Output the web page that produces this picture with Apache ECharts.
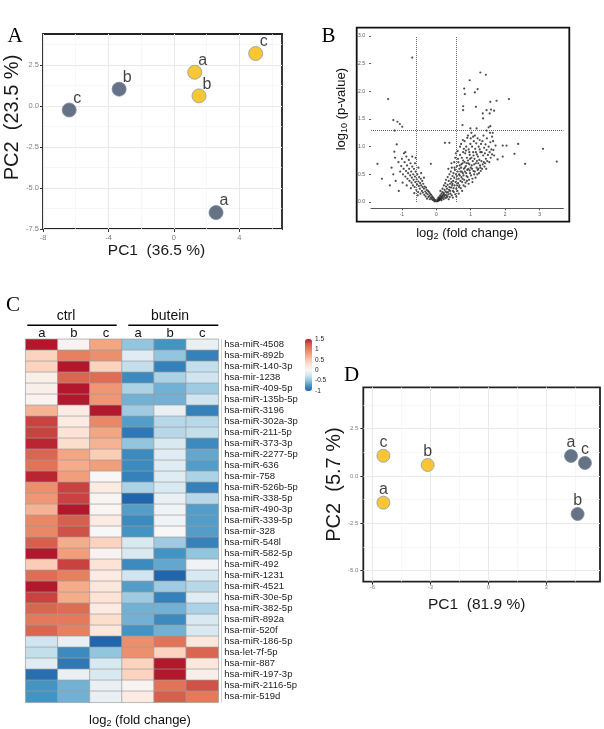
<!DOCTYPE html>
<html><head><meta charset="utf-8">
<script src="https://cdn.jsdelivr.net/npm/echarts@6/dist/echarts.min.js"></script>
<style>html,body{margin:0;padding:0;background:#fff}#c{width:604px;height:729px}</style>
</head><body><div id="c"></div>
<script>
// ---------- data ----------
const LETTERS = ['a', 'b', 'c'];
// Panel A (PCA)
const A_BLUE = [[2.57, -6.5], [-3.35, 1.02], [-6.4, -0.25]];
const A_YELLOW = [[1.27, 2.05], [1.53, 0.61], [4.99, 3.19]];
const A_X_TICKS = [-8, -4, 0, 4], A_X_MINOR = [-6, -2, 2, 6];
const A_Y_TICKS = [-7.5, -5, -2.5, 0, 2.5], A_Y_MINOR = [-6.25, -3.75, -1.25, 1.25, 3.75];
// Panel D (PCA)
const D_BLUE = [[4.28, 1.06], [4.62, -2.01], [5.0, 0.69]];
const D_YELLOW = [[-5.43, -1.41], [-3.14, 0.58], [-5.43, 1.07]];
const D_X_TICKS = [-6, -3, 0, 3], D_X_MINOR = [-4.5, -1.5, 1.5, 4.5];
const D_Y_TICKS = [-5, -2.5, 0, 2.5], D_Y_MINOR = [-3.75, -1.25, 1.25, 3.75];
// Panel B (volcano)
const B_X_TICKS = [-1, 0, 1, 2, 3];
const B_Y_TICKS = [0, 0.5, 1, 1.5, 2, 2.5, 3];
const FC_CUT = 0.585, P_CUT = 1.3;
const VOLCANO = [
 [-0.70,2.61],[-1.40,1.86],[-1.25,1.48],[-1.13,1.45],[-1.06,1.41],[-0.99,1.36],[-1.21,1.29],[-1.15,1.04],[-1.22,0.91],[-1.71,0.69],[-1.58,0.42],[-1.09,0.20],[-0.16,0.69],[0.25,1.07],[0.38,1.07],
 [1.28,2.34],[1.44,2.30],[0.97,2.20],[0.81,2.05],[1.20,2.04],[0.83,1.95],[1.12,1.98],[2.11,1.86],[1.75,1.83],[1.57,1.81],[0.78,1.73],[1.15,1.72],[0.78,1.66],[1.46,1.66],[1.59,1.67],[1.68,1.65],[1.35,1.60],[1.55,1.60],[1.36,1.51],[1.52,1.35],[1.57,1.37],[1.46,1.29],[1.64,1.25],[0.76,1.39],[0.99,1.33],[1.17,1.33],
 [2.38,1.05],[2.04,1.02],[1.93,1.02],[3.10,0.96],[2.27,0.87],[1.78,0.77],[3.50,0.73],[2.58,0.69],[1.93,0.82],[1.66,0.94],
 [0.02,0.01],[0.04,0.03],[0.05,0.02],[0.07,0.05],[0.08,0.03],[0.09,0.07],[0.03,0.05],[0.06,0.08],[0.1,0.04],[0.1,0.1],
 [0.11,0.06],[0.12,0.12],[0.13,0.05],[0.14,0.09],[0.15,0.15],[0.16,0.07],[0.17,0.11],[0.18,0.18],[0.19,0.08],[0.2,0.13],[0.12,0.2],[0.15,0.03],[0.18,0.24],
 [0.21,0.05],[0.22,0.16],[0.23,0.1],[0.24,0.22],[0.25,0.13],[0.26,0.07],[0.27,0.19],[0.28,0.28],[0.29,0.12],[0.3,0.17],[0.22,0.3],[0.26,0.34],[0.3,0.08],[0.28,0.4],
 [0.31,0.24],[0.32,0.1],[0.33,0.31],[0.34,0.18],[0.35,0.14],[0.36,0.38],[0.37,0.22],[0.38,0.27],[0.39,0.09],[0.4,0.33],[0.33,0.45],[0.36,0.05],[0.38,0.5],[0.4,0.2],[0.35,0.6],
 [0.41,0.15],[0.42,0.42],[0.43,0.26],[0.44,0.36],[0.45,0.12],[0.46,0.3],[0.47,0.47],[0.48,0.2],[0.49,0.38],[0.5,0.25],[0.42,0.55],[0.45,0.62],[0.48,0.08],[0.5,0.52],[0.44,0.7],[0.47,0.33],
 [0.51,0.18],[0.52,0.44],[0.53,0.3],[0.54,0.58],[0.55,0.14],[0.56,0.36],[0.57,0.5],[0.58,0.24],[0.59,0.41],[0.6,0.65],[0.52,0.72],[0.55,0.8],[0.58,0.1],[0.6,0.3],[0.53,0.62],[0.57,0.88],[0.6,0.47],
 [0.61,0.2],[0.62,0.55],[0.63,0.34],[0.64,0.72],[0.65,0.42],[0.66,0.27],[0.67,0.6],[0.68,0.48],[0.69,0.85],[0.7,0.38],[0.62,0.92],[0.65,0.15],[0.68,0.66],[0.7,0.55],[0.63,0.78],[0.67,0.3],[0.69,1.0],[0.66,0.5],
 [0.71,0.25],[0.72,0.62],[0.73,0.45],[0.74,0.8],[0.75,0.36],[0.76,0.7],[0.77,0.52],[0.78,0.9],[0.79,0.3],[0.8,0.6],[0.72,1.05],[0.74,0.55],[0.76,0.42],[0.78,0.75],[0.8,0.96],[0.73,0.68],[0.77,1.12],[0.79,0.48],[0.75,0.2],
 [0.81,0.4],[0.82,0.72],[0.83,0.55],[0.84,0.88],[0.85,0.35],[0.86,0.65],[0.87,1.0],[0.88,0.47],[0.89,0.8],[0.9,0.58],[0.82,1.1],[0.84,0.28],[0.86,0.93],[0.88,0.7],[0.9,1.16],[0.83,0.62],[0.87,0.52],[0.89,0.38],
 [0.91,0.45],[0.92,0.75],[0.93,0.6],[0.94,0.95],[0.95,0.4],[0.96,0.68],[0.97,0.85],[0.98,0.52],[0.99,1.05],[1.0,0.62],[0.92,1.2],[0.94,0.33],[0.96,0.9],[0.98,0.78],[1.0,1.15],[0.93,0.7],[0.97,0.57],
 [1.01,0.48],[1.02,0.8],[1.03,0.66],[1.04,1.0],[1.05,0.42],[1.06,0.74],[1.07,0.9],[1.08,0.56],[1.09,1.1],[1.1,0.68],[1.02,1.25],[1.05,0.36],[1.08,0.84],[1.1,0.5],[1.04,0.6],[1.07,1.18],
 [1.11,0.78],[1.12,0.55],[1.13,0.96],[1.14,0.44],[1.15,0.7],[1.16,1.06],[1.17,0.62],[1.18,0.86],[1.19,0.5],[1.2,1.15],[1.12,1.2],[1.15,0.9],[1.18,0.74],[1.2,0.58],
 [1.21,0.82],[1.22,0.6],[1.23,1.0],[1.24,0.52],[1.25,0.76],[1.26,1.12],[1.27,0.66],[1.28,0.9],[1.29,0.56],[1.3,1.05],[1.22,0.7],[1.26,0.95],[1.28,0.62],
 [1.31,0.74],[1.32,0.9],[1.33,0.6],[1.34,1.1],[1.35,0.68],[1.36,0.84],[1.37,1.2],[1.38,0.72],[1.39,0.98],[1.4,0.64],
 [1.41,0.88],[1.42,0.7],[1.43,1.04],[1.44,0.78],[1.45,0.6],[1.46,0.94],[1.47,1.15],[1.48,0.74],[1.5,0.85],
 [1.52,1.0],[1.54,0.72],[1.55,0.9],[1.57,1.08],[1.58,0.8],[1.6,0.95],[1.62,0.86],[1.65,1.1],[1.68,0.84],[1.72,1.02],[1.56,1.25],[1.62,1.18],
 [-0.02,0.02],[-0.04,0.04],[-0.05,0.01],[-0.07,0.06],[-0.08,0.03],[-0.1,0.08],[-0.11,0.04],[-0.12,0.1],[-0.14,0.06],[-0.15,0.13],[-0.16,0.08],[-0.18,0.15],[-0.19,0.05],[-0.2,0.11],[-0.21,0.18],[-0.23,0.09],[-0.24,0.2],[-0.25,0.14],[-0.27,0.06],[-0.28,0.22],[-0.29,0.16],[-0.3,0.26],[-0.31,0.1],[-0.32,0.19],[-0.34,0.28],[-0.35,0.13],[-0.36,0.24],[-0.38,0.33],[-0.39,0.17],[-0.4,0.27],
 [-0.41,0.38],[-0.42,0.2],[-0.44,0.3],[-0.45,0.42],[-0.46,0.15],[-0.47,0.34],[-0.48,0.24],[-0.5,0.45],[-0.51,0.29],[-0.52,0.37],[-0.53,0.18],[-0.55,0.5],[-0.56,0.32],[-0.57,0.41],[-0.58,0.22],[-0.6,0.55],[-0.61,0.36],[-0.62,0.46],[-0.63,0.27],[-0.65,0.6],
 [-0.66,0.4],[-0.67,0.5],[-0.68,0.3],[-0.7,0.64],[-0.71,0.44],[-0.72,0.35],[-0.73,0.55],[-0.75,0.7],[-0.76,0.48],[-0.78,0.38],[-0.79,0.6],[-0.8,0.76],[-0.82,0.52],[-0.84,0.42],[-0.85,0.66],[-0.87,0.82],[-0.88,0.56],[-0.9,0.46],[-0.92,0.72],[-0.94,0.88],
 [-0.95,0.6],[-0.97,0.5],[-1.0,0.78],[-1.02,0.65],[-1.05,0.55],[-0.98,0.35],[-1.1,0.72],[-0.86,0.3],[-0.74,0.25],[-0.64,0.16],[-0.54,0.12],[-0.9,0.9],[-0.7,0.82],[-0.62,0.7],[-0.52,0.62],[-0.44,0.52],[-0.36,0.44],[-1.25,0.5],[-1.3,0.62],[-1.18,0.38],[-1.2,0.8],[-1.35,0.3],[-0.6,0.8]
];
// Panel C (heatmap)
const HEAT_GROUPS = ['ctrl', 'butein'];
const HEAT_COLS = ['a', 'b', 'c', 'a', 'b', 'c'];
const HEAT_COL_IDS = ['ctrl-a', 'ctrl-b', 'ctrl-c', 'butein-a', 'butein-b', 'butein-c'];
const HEAT_ROWS = ['hsa-miR-4508','hsa-miR-892b','hsa-miR-140-3p','hsa-mir-1238','hsa-miR-409-5p','hsa-miR-135b-5p','hsa-miR-3196','hsa-miR-302a-3p','hsa-miR-211-5p','hsa-miR-373-3p','hsa-miR-2277-5p','hsa-miR-636','hsa-mir-758','hsa-miR-526b-5p','hsa-miR-338-5p','hsa-miR-490-3p','hsa-miR-339-5p','hsa-mir-328','hsa-miR-548l','hsa-miR-582-5p','hsa-miR-492','hsa-miR-1231','hsa-miR-4521','hsa-miR-30e-5p','hsa-miR-382-5p','hsa-miR-892a','hsa-mir-520f','hsa-miR-186-5p','hsa-let-7f-5p','hsa-mir-887','hsa-miR-197-3p','hsa-miR-2116-5p','hsa-mir-519d'];
const HEAT_VALUES = [
 [1.5,0.05,0.75,-0.5,-0.75,-0.1],
 [0.4,1.0,0.9,-0.15,-0.5,-0.85],
 [0.4,1.5,0.4,-0.3,-0.85,-0.3],
 [0.1,1.2,1.15,-0.8,-0.4,-0.25],
 [0.1,1.5,0.85,-0.4,-0.6,-0.45],
 [0.05,1.5,0.85,-0.6,-0.6,-0.25],
 [0.65,0.15,1.5,-0.45,-0.1,-0.85],
 [1.35,0.15,0.95,-0.7,-0.35,-0.35],
 [1.35,0.25,0.75,-0.9,-0.35,-0.3],
 [1.45,0.3,0.65,-0.5,-0.2,-0.8],
 [1.2,0.75,0.45,-0.8,-0.15,-0.65],
 [1.1,0.7,0.8,-0.8,-0.15,-0.7],
 [1.45,0.8,0.0,-0.85,-0.15,-0.4],
 [0.9,1.35,0.15,-0.4,-0.2,-0.85],
 [0.85,1.35,0.02,-1.0,-0.1,-0.35],
 [0.65,1.5,0.03,-0.7,-0.05,-0.7],
 [0.95,1.25,0.15,-0.8,-0.05,-0.7],
 [0.95,1.3,0.0,-0.75,0.0,-0.7],
 [1.25,0.7,0.4,-0.2,-0.45,-0.85],
 [1.5,0.8,0.05,-0.2,-0.75,-0.5],
 [0.45,1.35,0.25,-0.8,-0.65,-0.05],
 [1.15,1.0,0.15,-0.25,-1.0,-0.2],
 [1.5,0.7,0.2,-0.7,-0.45,-0.35],
 [1.35,0.7,0.25,-0.45,-0.85,-0.15],
 [1.2,1.15,0.15,-0.6,-0.6,-0.4],
 [1.05,1.05,0.3,-0.6,-0.8,-0.2],
 [1.2,1.0,0.2,-0.75,-0.6,-0.2],
 [-0.25,-0.1,-1.0,0.9,1.1,0.2],
 [-0.3,-0.8,-0.5,0.9,0.4,1.2],
 [-0.15,-0.9,-0.2,0.4,1.5,0.2],
 [-0.95,-0.1,-0.2,0.4,1.5,0.1],
 [-0.75,-0.6,-0.1,0.05,1.1,1.3],
 [-0.75,-0.6,-0.1,0.15,1.25,1.05]
];
const HEAT_MIN = -1, HEAT_MAX = 1.5;
const COLORBAR_TICKS = [-1, -0.5, 0, 0.5, 1, 1.5];

// ---------- styles ----------
const FONT = '"Liberation Sans", Arial, sans-serif';
const SERIF = '"Liberation Serif", "Times New Roman", serif';
const HEAT_PALETTE = ['#2166AC','#4393C3','#92C5DE','#D1E5F0','#F7F7F7','#FDE3D5','#FAC8AF','#F4A582','#E7805F','#D6604D','#B2182B'];
const BLUE = '#3F5067', YELLOW = '#F9B800';
const TICK_GRAY = '#7f7f7f';

function majorAxis(dim, gridIndex, min, max, ticks, fmt, fs, margin, name, gap, nameSize, pad) {
  return {
    type: 'value', gridIndex, min, max, position: dim === 'x' ? 'bottom' : 'left',
    axisLine: { show: false, onZero: false },
    axisTick: { show: true, length: 3, customValues: ticks, lineStyle: { color: '#333', width: 1 } },
    axisLabel: { customValues: ticks, formatter: fmt, fontSize: fs, color: TICK_GRAY, margin, fontFamily: FONT },
    splitLine: { show: true, lineStyle: { color: '#e9e9e9', width: 1 } },
    name, nameLocation: 'middle', nameGap: gap,
    nameTextStyle: { fontSize: nameSize, color: '#1a1a1a', fontFamily: FONT, padding: pad }
  };
}
function minorAxis(dim, gridIndex, min, max, ticks) {
  return {
    type: 'value', gridIndex, min, max, position: dim === 'x' ? 'top' : 'right',
    axisLine: { show: false, onZero: false },
    axisTick: { show: false, customValues: ticks },
    axisLabel: { show: false },
    splitLine: { show: true, lineStyle: { color: '#f3f3f3', width: 0.7 } }
  };
}
const hiddenAxis = (gridIndex) => ({ type: 'value', gridIndex, min: 0, max: 1, show: false });
const fmt1 = v => v.toFixed(1);
const fmt0 = v => String(v);
const pts = arr => arr.map((p, i) => ({ name: LETTERS[i], value: p }));

function pcaSeries(data, color, border, xi, yi, size, labelPos) {
  return {
    type: 'scatter', xAxisIndex: xi, yAxisIndex: yi, data: pts(data), symbolSize: size,
    itemStyle: { color, borderColor: border, borderWidth: 1 },
    label: Object.assign({ show: true, formatter: '{b}', fontSize: 16, color: '#111', fontFamily: FONT }, labelPos),
    emphasis: { disabled: true }, z: 5
  };
}

const heatData = [];
HEAT_VALUES.forEach((row, r) => row.forEach((v, c) => heatData.push([c, r, v])));

const B_X_MIN = -1.898, B_X_MAX = 3.69, B_Y_MIN = -0.114, B_Y_MAX = 3.0;

const option = {
  animation: false,
  textStyle: { fontFamily: FONT },
  grid: [
    { left: 43, top: 34, width: 239, height: 195, show: true, borderColor: '#222', borderWidth: 1.8, backgroundColor: 'transparent', outerBoundsMode: 'none' },
    { left: 356.7, top: 27.7, width: 212.6, height: 194, show: true, borderColor: '#111', borderWidth: 1.8, backgroundColor: 'transparent', outerBoundsMode: 'none' },
    { left: 371, top: 36, width: 192.3, height: 172.3, outerBoundsMode: 'none' },
    { left: 25.7, top: 339.3, width: 192.6, height: 363, outerBoundsMode: 'none' },
    { left: 305, top: 339, width: 7, height: 52, outerBoundsMode: 'none' },
    { left: 363.3, top: 387.3, width: 236.7, height: 194.4, show: true, borderColor: '#222', borderWidth: 1.8, backgroundColor: 'transparent', outerBoundsMode: 'none' }
  ],
  xAxis: [
    majorAxis('x', 0, -8, 6.6, A_X_TICKS, fmt0, 7.5, 5, 'PC1  (36.5 %)', 13, 15.5, [0, 12, 0, 0]),
    minorAxis('x', 0, -8, 6.6, A_X_MINOR),
    hiddenAxis(1),
    {
      type: 'value', gridIndex: 2, min: B_X_MIN, max: B_X_MAX, position: 'bottom',
      axisLine: { show: true, onZero: false, lineStyle: { color: '#555', width: 1 } },
      axisTick: { show: true, length: 2, customValues: B_X_TICKS, lineStyle: { color: '#555' } },
      axisLabel: { customValues: B_X_TICKS, formatter: fmt0, fontSize: 5, color: '#555', margin: 4 },
      splitLine: { show: false },
      name: 'log{s|2} (fold change)', nameLocation: 'middle', nameGap: 17,
      nameTextStyle: { fontSize: 13, color: '#111', lineHeight: 16, rich: { s: { fontSize: 9, lineHeight: 8, verticalAlign: 'bottom' } } }
    },
    {
      type: 'category', gridIndex: 3, data: HEAT_COL_IDS, position: 'top',
      axisLine: { show: false }, axisTick: { show: false },
      axisLabel: { interval: 0, formatter: (v, i) => HEAT_COLS[i], fontSize: 13, color: '#111', margin: -1 },
      splitLine: { show: false }
    },
    {
      type: 'category', gridIndex: 3, data: HEAT_COL_IDS, position: 'bottom',
      axisLine: { show: false }, axisTick: { show: false }, axisLabel: { show: false },
      name: 'log{s|2} (fold change)', nameLocation: 'middle', nameGap: 10,
      nameTextStyle: { fontSize: 13, color: '#111', lineHeight: 16, padding: [0, 0, 0, 36], rich: { s: { fontSize: 9, lineHeight: 8, verticalAlign: 'bottom' } } }
    },
    { type: 'value', gridIndex: 4, min: 0, max: 1, show: false },
    majorAxis('x', 5, -6.47, 5.78, D_X_TICKS, fmt0, 6, 3, 'PC1  (81.9 %)', 15, 15.5, [0, 10, 0, 0]),
    minorAxis('x', 5, -6.47, 5.78, D_X_MINOR)
  ],
  yAxis: [
    majorAxis('y', 0, -7.5, 4.38, A_Y_TICKS, fmt1, 7.5, 4, 'PC2  (23.5 %)', 20, 20, [0, 0, 0, 28]),
    minorAxis('y', 0, -7.5, 4.38, A_Y_MINOR),
    hiddenAxis(1),
    {
      type: 'value', gridIndex: 2, min: B_Y_MIN, max: B_Y_MAX, position: 'left',
      axisLine: { show: false, onZero: false },
      axisTick: { show: true, length: 2, customValues: B_Y_TICKS, lineStyle: { color: '#555' } },
      axisLabel: { customValues: B_Y_TICKS, formatter: fmt1, fontSize: 5, color: '#555', margin: 6 },
      splitLine: { show: false },
      name: 'log{s|10} (p-value)', nameLocation: 'middle', nameGap: 22,
      nameTextStyle: { fontSize: 13, color: '#111', lineHeight: 16, padding: [0, 0, 0, 26], rich: { s: { fontSize: 9, lineHeight: 8, verticalAlign: 'bottom' } } }
    },
    {
      type: 'category', gridIndex: 3, data: HEAT_ROWS, inverse: true, position: 'right', offset: 3,
      axisLine: { show: true, lineStyle: { color: '#d4d4d4', width: 1 } }, axisTick: { show: false },
      axisLabel: { interval: 0, fontSize: 9.5, color: '#222', margin: 3 },
      splitLine: { show: false }
    },
    {
      type: 'value', gridIndex: 4, min: HEAT_MIN, max: HEAT_MAX, position: 'right',
      axisLine: { show: false }, axisTick: { show: false, customValues: COLORBAR_TICKS },
      axisLabel: { customValues: COLORBAR_TICKS, formatter: fmt0, fontSize: 6.5, color: '#222', margin: 3 },
      splitLine: { show: false }
    },
    majorAxis('y', 5, -5.59, 4.69, D_Y_TICKS, fmt1, 6, 5, 'PC2  (5.7 %)', 17, 20, 0),
    minorAxis('y', 5, -5.59, 4.69, D_Y_MINOR)
  ],
  visualMap: {
    type: 'continuous', min: HEAT_MIN, max: HEAT_MAX, seriesIndex: 3, calculable: false, hoverLink: false,
    inRange: { color: HEAT_PALETTE }, left: 305, top: 339, itemWidth: 7, itemHeight: 52, padding: 0,
    orient: 'vertical'
  },
  series: [
    pcaSeries(A_BLUE, BLUE, '#7487a0', 0, 0, 14, { position: 'top', distance: -4, offset: [8, 0] }),
    pcaSeries(A_YELLOW, YELLOW, '#8d9ea8', 0, 0, 14, { position: 'top', distance: -4, offset: [8, 0] }),
    {
      type: 'scatter', xAxisIndex: 3, yAxisIndex: 3, data: VOLCANO, symbolSize: 2.2,
      itemStyle: { color: '#222' }, emphasis: { disabled: true },
      markLine: {
        silent: true, symbol: ['none', 'none'], label: { show: false },
        lineStyle: { type: 'dotted', color: '#666', width: 1 },
        data: [
          [{ coord: [-FC_CUT, 0] }, { coord: [-FC_CUT, B_Y_MAX] }],
          [{ coord: [FC_CUT, 0] }, { coord: [FC_CUT, B_Y_MAX] }],
          [{ coord: [B_X_MIN, P_CUT] }, { coord: [B_X_MAX, P_CUT] }]
        ]
      }
    },
    {
      type: 'heatmap', xAxisIndex: 4, yAxisIndex: 4, data: heatData,
      itemStyle: { borderColor: '#9e9e9e', borderWidth: 0.7 }, emphasis: { disabled: true }
    },
    pcaSeries(D_BLUE, BLUE, '#7487a0', 7, 6, 13, { position: 'top', distance: -2 }),
    pcaSeries(D_YELLOW, YELLOW, '#8d9ea8', 7, 6, 13, { position: 'top', distance: -2 })
  ],
  graphic: [
    { type: 'text', style: { text: 'A', x: 7.5, y: 36, verticalAlign: 'middle', fontSize: 21, fontFamily: SERIF, fill: '#000' } },
    { type: 'text', style: { text: 'B', x: 321.5, y: 36, verticalAlign: 'middle', fontSize: 21, fontFamily: SERIF, fill: '#000' } },
    { type: 'text', style: { text: 'C', x: 6, y: 305, verticalAlign: 'middle', fontSize: 21, fontFamily: SERIF, fill: '#000' } },
    { type: 'text', style: { text: 'D', x: 344, y: 375, verticalAlign: 'middle', fontSize: 21, fontFamily: SERIF, fill: '#000' } },
    { type: 'text', style: { text: HEAT_GROUPS[0], x: 66, y: 316.5, align: 'center', verticalAlign: 'middle', fontSize: 14, fontFamily: FONT, fill: '#111' } },
    { type: 'text', style: { text: HEAT_GROUPS[1], x: 170, y: 316.5, align: 'center', verticalAlign: 'middle', fontSize: 14, fontFamily: FONT, fill: '#111' } },
    { type: 'line', shape: { x1: 27.3, y1: 325.3, x2: 116.7, y2: 325.3 }, style: { stroke: '#000', lineWidth: 1.5 } },
    { type: 'line', shape: { x1: 128.3, y1: 325.3, x2: 218.3, y2: 325.3 }, style: { stroke: '#000', lineWidth: 1.5 } }
  ]
};

const chart = echarts.init(document.getElementById('c'), null, { renderer: 'canvas' });
chart.setOption(option);
</script>
</body></html>
